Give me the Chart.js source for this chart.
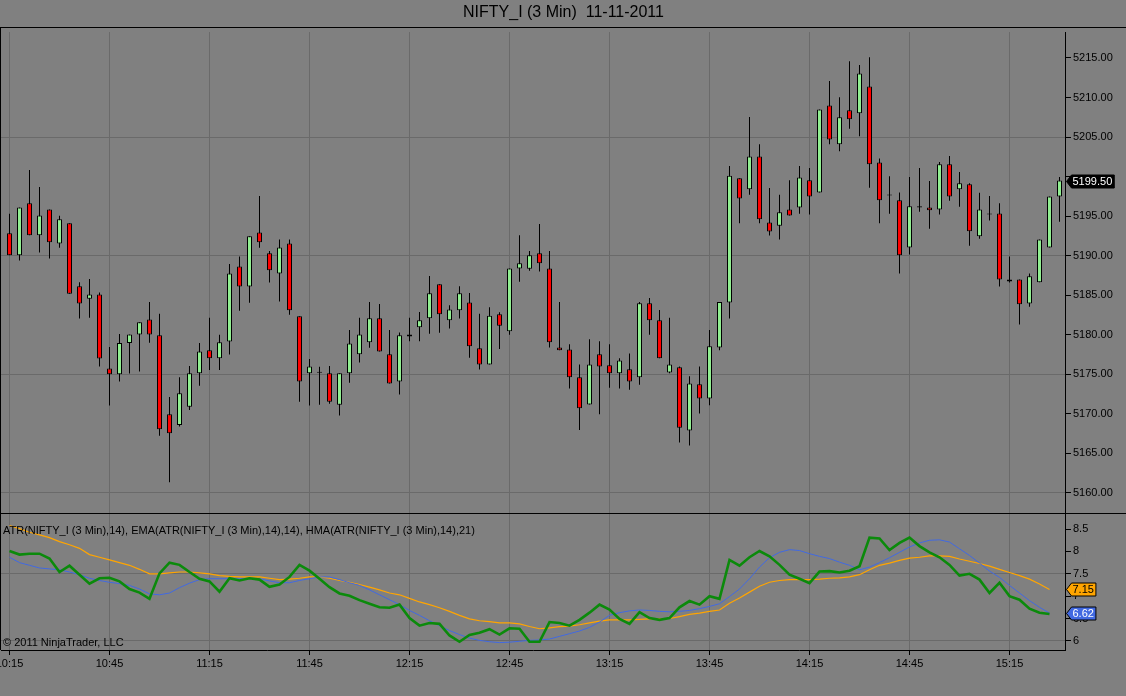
<!DOCTYPE html>
<html><head><meta charset="utf-8">
<script src="https://cdn.jsdelivr.net/npm/chart.js@4.4.0/dist/chart.umd.min.js"></script>
<style>
html,body{margin:0;padding:0;background:#808080;}
#wrap{position:relative;width:1126px;height:696px;overflow:hidden;background:#808080;}
#c1{position:absolute;left:0;top:0;}
#c2{position:absolute;left:0;top:513px;}
</style></head><body>
<div id="wrap"><canvas id="c1" width="1126" height="513"></canvas><canvas id="c2" width="1126" height="183"></canvas></div>
<script>
const chartTitle = 'NIFTY_I (3 Min)  11-11-2011';
const indicatorTitle = 'ATR(NIFTY_I (3 Min),14), EMA(ATR(NIFTY_I (3 Min),14),14), HMA(ATR(NIFTY_I (3 Min),14),21)';
const copyright = '\u00A9 2011 NinjaTrader, LLC';

const times = [
'10:15','10:18','10:21','10:24','10:27','10:30','10:33','10:36','10:39','10:42',
'10:45','10:48','10:51','10:54','10:57','11:00','11:03','11:06','11:09','11:12',
'11:15','11:18','11:21','11:24','11:27','11:30','11:33','11:36','11:39','11:42',
'11:45','11:48','11:51','11:54','11:57','12:00','12:03','12:06','12:09','12:12',
'12:15','12:18','12:21','12:24','12:27','12:30','12:33','12:36','12:39','12:42',
'12:45','12:48','12:51','12:54','12:57','13:00','13:03','13:06','13:09','13:12',
'13:15','13:18','13:21','13:24','13:27','13:30','13:33','13:36','13:39','13:42',
'13:45','13:48','13:51','13:54','13:57','14:00','14:03','14:06','14:09','14:12',
'14:15','14:18','14:21','14:24','14:27','14:30','14:33','14:36','14:39','14:42',
'14:45','14:48','14:51','14:54','14:57','15:00','15:03','15:06','15:09','15:12',
'15:15','15:18','15:21','15:24','15:27','15:30'];

const opens = [
5192.85,5190.05,5196.65,5192.60,5195.85,5191.55,5194.10,5186.15,5184.55,5185.10,
5175.75,5175.00,5178.95,5180.05,5181.95,5179.95,5169.95,5168.60,5170.90,5175.15,
5178.05,5177.05,5179.15,5188.65,5186.10,5192.95,5190.30,5187.75,5191.55,5182.35,
5175.15,5175.25,5175.15,5171.15,5175.15,5177.55,5179.05,5182.10,5177.55,5174.10,
5179.80,5180.95,5182.10,5186.40,5181.85,5183.10,5184.10,5178.30,5176.25,5182.60,
5180.45,5188.40,5188.35,5190.30,5188.40,5178.40,5178.15,5174.65,5171.20,5177.55,
5176.15,5175.15,5175.65,5174.65,5184.00,5181.85,5175.25,5175.90,5167.90,5173.75,
5171.95,5178.40,5184.10,5199.80,5198.40,5202.55,5194.20,5193.80,5195.85,5196.10,
5199.55,5198.00,5209.00,5204.10,5208.40,5208.00,5211.40,5201.80,5197.65,5197.00,
5191.05,5196.25,5196.10,5195.85,5201.55,5198.40,5199.05,5192.45,5195.25,5195.35,
5187.00,5187.00,5183.95,5186.65,5191.05,5197.50];
const highs = [
5195.30,5196.10,5200.85,5198.70,5195.85,5195.05,5194.10,5186.65,5187.05,5185.35,
5178.45,5180.10,5180.05,5181.60,5184.15,5182.65,5172.15,5174.65,5176.05,5178.95,
5182.15,5180.00,5188.95,5189.90,5192.45,5197.55,5190.60,5192.05,5192.05,5182.35,
5176.95,5175.95,5176.05,5175.15,5180.60,5182.15,5184.15,5183.90,5180.60,5180.30,
5182.15,5182.90,5187.45,5186.40,5183.75,5186.15,5185.30,5182.65,5183.50,5182.85,
5188.40,5192.60,5190.60,5194.00,5190.60,5184.15,5178.80,5176.25,5179.45,5179.20,
5178.80,5177.05,5177.65,5184.15,5184.65,5183.15,5182.15,5176.00,5174.75,5176.00,
5180.60,5184.15,5201.35,5199.80,5207.55,5204.10,5198.55,5197.70,5199.55,5201.35,
5201.10,5208.50,5212.10,5210.05,5214.60,5214.10,5215.10,5202.30,5200.05,5198.00,
5199.95,5201.10,5199.45,5201.85,5202.60,5200.60,5199.15,5197.95,5197.55,5196.65,
5189.90,5187.00,5187.75,5192.05,5197.50,5199.95];
const lows = [
5190.05,5189.40,5192.60,5190.40,5189.65,5191.00,5185.20,5182.05,5182.15,5176.00,
5171.05,5174.10,5175.10,5175.35,5179.00,5167.25,5161.35,5168.40,5170.50,5173.55,
5175.55,5175.55,5177.50,5183.05,5184.05,5191.00,5186.60,5184.20,5182.55,5171.55,
5171.05,5171.15,5171.30,5169.80,5173.95,5176.50,5178.35,5177.90,5173.85,5172.45,
5179.20,5179.20,5180.15,5180.25,5180.80,5182.05,5177.10,5175.60,5176.25,5178.20,
5180.00,5186.70,5188.10,5188.00,5178.40,5178.05,5173.20,5167.95,5171.20,5169.95,
5173.30,5173.20,5173.05,5173.70,5180.00,5177.05,5175.15,5166.40,5166.00,5170.05,
5171.10,5178.05,5182.05,5194.10,5197.70,5194.10,5192.55,5192.05,5195.10,5195.30,
5195.20,5198.00,5204.10,5203.20,5206.05,5205.10,5198.60,5194.10,5195.30,5187.75,
5190.15,5195.55,5193.40,5195.20,5196.95,5196.20,5191.25,5192.15,5194.45,5186.10,
5186.60,5181.30,5183.55,5186.65,5191.05,5194.30];
const closes = [
5190.05,5196.10,5192.60,5195.10,5191.70,5194.60,5185.20,5183.95,5185.10,5177.00,
5175.00,5178.95,5180.05,5181.60,5180.05,5168.05,5167.55,5172.60,5175.15,5177.90,
5177.05,5179.05,5187.75,5186.10,5192.45,5191.70,5188.15,5191.05,5183.10,5174.10,
5176.00,5175.20,5171.55,5175.15,5178.90,5180.05,5182.10,5177.90,5173.85,5179.95,
5180.05,5181.85,5185.25,5182.60,5183.20,5185.25,5178.55,5176.25,5182.40,5181.15,
5188.40,5189.05,5190.05,5189.05,5179.05,5178.05,5174.65,5170.70,5176.25,5176.00,
5175.15,5176.75,5174.10,5184.00,5181.85,5177.05,5176.25,5168.25,5173.85,5171.95,
5178.55,5184.15,5200.10,5197.25,5202.55,5194.60,5193.05,5195.50,5195.10,5199.90,
5197.50,5208.50,5204.70,5207.50,5207.25,5213.05,5201.55,5197.00,5197.60,5190.05,
5196.25,5196.10,5195.75,5201.55,5197.50,5199.15,5193.10,5195.85,5195.20,5187.00,
5186.75,5183.85,5187.40,5192.05,5197.50,5199.50];

const atrValues = [
8.01,7.93,7.95,7.95,7.84,7.54,7.68,7.48,7.28,7.40,
7.41,7.33,7.16,7.08,6.94,7.51,7.75,7.70,7.54,7.39,
7.33,7.10,7.40,7.35,7.40,7.37,7.21,7.26,7.43,7.70,
7.57,7.39,7.20,7.06,7.01,6.91,6.83,6.75,6.74,6.81,
6.51,6.34,6.40,6.38,6.12,5.98,6.13,6.18,6.26,6.14,
6.28,6.27,5.98,5.98,6.42,6.40,6.34,6.47,6.63,6.81,
6.70,6.49,6.38,6.64,6.51,6.47,6.51,6.75,6.89,6.81,
7.00,6.94,7.81,7.68,7.87,8.01,7.89,7.70,7.48,7.39,
7.29,7.55,7.56,7.53,7.57,7.67,8.31,8.29,8.03,8.19,
8.31,8.12,7.98,7.87,7.70,7.46,7.50,7.37,7.07,7.30,
7.00,6.92,6.72,6.63,6.60];
const emaValues = [
8.58,8.51,8.43,8.37,8.31,8.22,8.15,8.07,7.93,7.87,
7.81,7.75,7.69,7.60,7.50,7.50,7.52,7.54,7.54,7.52,
7.50,7.46,7.44,7.43,7.43,7.43,7.40,7.37,7.38,7.40,
7.43,7.43,7.40,7.35,7.31,7.26,7.20,7.14,7.07,7.03,
6.95,6.87,6.81,6.74,6.66,6.57,6.49,6.45,6.43,6.40,
6.40,6.38,6.32,6.27,6.29,6.32,6.33,6.36,6.40,6.44,
6.47,6.47,6.47,6.48,6.49,6.49,6.50,6.54,6.59,6.62,
6.66,6.69,6.84,6.96,7.09,7.22,7.31,7.35,7.37,7.37,
7.37,7.38,7.40,7.41,7.43,7.48,7.59,7.69,7.74,7.80,
7.85,7.87,7.90,7.90,7.89,7.83,7.78,7.73,7.67,7.60,
7.53,7.46,7.38,7.27,7.15];
const hmaValues = [
7.87,7.75,7.69,7.63,7.61,7.59,7.54,7.48,7.40,7.35,
7.31,7.28,7.24,7.16,7.05,7.03,7.07,7.19,7.29,7.37,
7.39,7.39,7.39,7.39,7.40,7.39,7.34,7.30,7.30,7.35,
7.39,7.43,7.43,7.37,7.30,7.24,7.14,7.03,6.92,6.81,
6.68,6.57,6.45,6.34,6.23,6.14,6.06,6.01,5.98,5.96,
5.97,5.99,6.01,6.02,6.04,6.10,6.16,6.22,6.30,6.42,
6.57,6.63,6.67,6.69,6.68,6.66,6.65,6.66,6.68,6.72,
6.77,6.83,6.99,7.16,7.39,7.65,7.86,7.98,8.04,8.02,
7.95,7.89,7.84,7.76,7.69,7.59,7.65,7.75,7.86,7.98,
8.10,8.19,8.25,8.26,8.21,8.06,7.91,7.74,7.56,7.42,
7.24,7.07,6.90,6.75,6.62];

const xTickLabels = ['10:15','10:45','11:15','11:45','12:15','12:45','13:15','13:45','14:15','14:45','15:15'];
const priceTickLabels = ['5160.00','5165.00','5170.00','5175.00','5180.00','5185.00','5190.00','5195.00','5200.00','5205.00','5210.00','5215.00'];
const atrTickLabels = ['6','6.5','7','7.5','8','8.5'];

const FONT = "'Liberation Sans', Arial, sans-serif";
const GRID = '#6a6a6a';
const X_MIN = -0.85, X_MAX = 105.55;
Chart.defaults.font.family = FONT;
Chart.defaults.color = '#000';

function xAxis(showLabels) {
  return {
    type: 'linear', min: X_MIN, max: X_MAX, offset: false,
    grid: { color: GRID, offset: false, drawTicks: showLabels, tickLength: 5, tickColor: '#000' },
    border: { display: showLabels, color: '#000' },
    ticks: {
      display: showLabels, stepSize: 10, includeBounds: false, autoSkip: false, maxRotation: 0,
      maxTicksLimit: 30, padding: 2, color: '#000', font: { size: 11 },
      callback: v => xTickLabels.includes(times[v]) ? times[v] : ''
    },
    afterFit: s => { if (showLabels) s.height = 46; s.paddingLeft = 0; s.paddingRight = 0; }
  };
}
function yAfterFit(s) { s.width = 61; s.paddingTop = 0; s.paddingBottom = 0; }

function tag(ctx, x, y, text, bg, fg) {
  ctx.save();
  ctx.font = '11px ' + FONT;
  const w = ctx.measureText(text).width;
  const h = 13;
  const x0 = Math.round(x) + 0.5, y0 = Math.round(y) + 0.5;
  ctx.beginPath();
  ctx.moveTo(x0, y0);
  ctx.lineTo(x0 + 5, y0 - h / 2);
  ctx.lineTo(x0 + 8 + w, y0 - h / 2);
  ctx.lineTo(x0 + 8 + w, y0 + h / 2);
  ctx.lineTo(x0 + 5, y0 + h / 2);
  ctx.closePath();
  ctx.fillStyle = bg; ctx.fill();
  ctx.strokeStyle = '#000'; ctx.lineWidth = 1; ctx.stroke();
  ctx.fillStyle = fg; ctx.textBaseline = 'middle'; ctx.textAlign = 'left';
  ctx.fillText(text, x0 + 6, y0 + 0.5);
  ctx.restore();
}

const lastClose = closes[closes.length - 1];

const framePlugin1 = {
  id: 'frame1',
  afterDraw(chart) {
    const ctx = chart.ctx, a = chart.chartArea;
    ctx.save();
    ctx.fillStyle = '#000';
    ctx.fillRect(0, a.top - 5, chart.width, 1);
    ctx.fillRect(0, a.top - 5, 1, a.bottom - a.top + 5);
    ctx.restore();
    tag(ctx, a.right + 1, chart.scales.y.getPixelForValue(lastClose), lastClose.toFixed(2), '#000', '#fff');
  }
};
const framePlugin2 = {
  id: 'frame2',
  afterDraw(chart) {
    const ctx = chart.ctx, a = chart.chartArea;
    ctx.save();
    ctx.fillStyle = '#000';
    ctx.fillRect(0, 0, chart.width, 1);
    ctx.fillRect(0, 0, 1, a.bottom);
    ctx.font = '11px ' + FONT;
    ctx.textBaseline = 'middle'; ctx.textAlign = 'left';
    ctx.fillStyle = '#000';
    ctx.fillText(indicatorTitle, 3, 18);
    ctx.fillText(copyright, 3, 130);
    ctx.restore();
    const ys = chart.scales.y;
    const e = emaValues[emaValues.length - 1], h = hmaValues[hmaValues.length - 1];
    tag(ctx, a.right + 1, ys.getPixelForValue(e), e.toFixed(2), '#FFA500', '#000');
    tag(ctx, a.right + 1, ys.getPixelForValue(h), h.toFixed(2), '#4169E1', '#fff');
  }
};

new Chart(document.getElementById('c1'), {
  type: 'bar',
  data: {
    datasets: [
      {
        label: 'wick',
        data: times.map((t, i) => ({ x: i, y: [lows[i], highs[i]] })),
        backgroundColor: '#000', borderWidth: 0, barThickness: 1, grouped: false,
        inflateAmount: 0, order: 2
      },
      {
        label: 'body',
        data: times.map((t, i) => ({ x: i, y: [opens[i], closes[i]] })),
        backgroundColor: times.map((t, i) => closes[i] >= opens[i] ? '#90EE90' : '#FF0000'),
        borderColor: '#000', borderWidth: 1, borderSkipped: false, barThickness: 5,
        grouped: false, minBarLength: 1, inflateAmount: 0, order: 1
      }
    ]
  },
  options: {
    responsive: false, animation: false, events: [],
    layout: { padding: { left: 1, right: 0, top: 0, bottom: 0 } },
    plugins: {
      legend: { display: false }, tooltip: { enabled: false },
      title: { display: true, text: chartTitle, color: '#000',
        font: { size: 16, weight: 'normal', family: FONT }, padding: { top: 3, bottom: 9.8 } }
    },
    scales: {
      x: xAxis(false),
      y: {
        position: 'right', min: 5157.471, max: 5218.287, beginAtZero: false,
        grid: {
          color: c => (c.tick && Math.round(c.tick.value) % 15 === 0) ? GRID : 'rgba(0,0,0,0)',
          tickColor: '#000', tickLength: 6
        },
        border: { display: true, color: '#000' },
        ticks: {
          stepSize: 5, includeBounds: false, maxTicksLimit: 50, padding: 2, color: '#000',
          font: { size: 11 },
          callback: v => {
            const l = Number(v).toFixed(2);
            if (Math.abs(v - lastClose) < 1.2) return '';
            return priceTickLabels.includes(l) ? l : '';
          }
        },
        afterFit: yAfterFit
      }
    }
  },
  plugins: [framePlugin1]
});

new Chart(document.getElementById('c2'), {
  type: 'line',
  data: {
    datasets: [
      { label: 'ATR', data: atrValues.map((v, i) => ({ x: i, y: v })), borderColor: '#0b8a0b',
        borderWidth: 2.6, pointRadius: 0, tension: 0, order: 0 },
      { label: 'HMA', data: hmaValues.map((v, i) => ({ x: i, y: v })), borderColor: '#4169E1',
        borderWidth: 1, pointRadius: 0, tension: 0, order: 1 },
      { label: 'EMA', data: emaValues.map((v, i) => ({ x: i, y: v })), borderColor: '#FFA500',
        borderWidth: 1.2, pointRadius: 0, tension: 0, order: 2 }
    ]
  },
  options: {
    responsive: false, animation: false, events: [],
    layout: { padding: { left: 1, right: 0, top: 0, bottom: 0 } },
    plugins: { legend: { display: false }, tooltip: { enabled: false }, title: { display: false } },
    scales: {
      x: xAxis(true),
      y: {
        position: 'right', min: 5.795, max: 8.86,
        grid: {
          color: c => { if (!c.tick) return 'rgba(0,0,0,0)'; const q = (c.tick.value - 6) / 1.5;
            return Math.abs(q - Math.round(q)) < 1e-6 ? GRID : 'rgba(0,0,0,0)'; },
          tickColor: '#000', tickLength: 6
        },
        border: { display: true, color: '#000' },
        ticks: {
          stepSize: 0.5, includeBounds: false, padding: 2, color: '#000', font: { size: 11 },
          callback: v => { const l = String(Number(Number(v).toFixed(1))); return atrTickLabels.includes(l) ? l : ''; }
        },
        afterFit: yAfterFit
      }
    }
  },
  plugins: [framePlugin2]
});
</script>
</body></html>
